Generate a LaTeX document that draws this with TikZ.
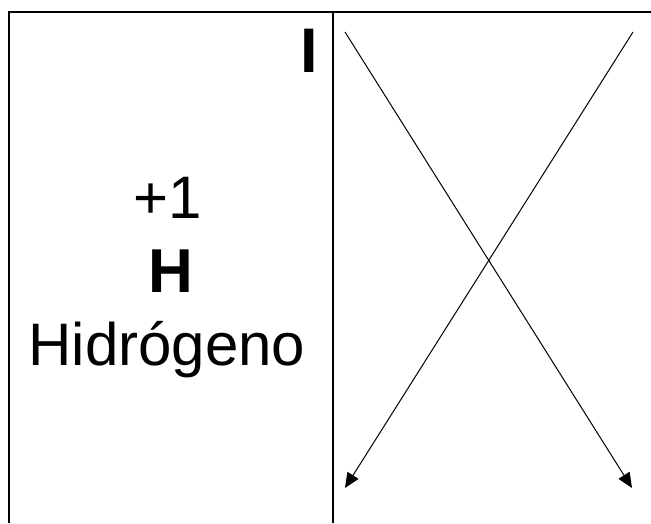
\documentclass[tikz,border=0pt]{standalone}
\usepackage{fontspec}
\setmainfont{Liberation Sans}
\usetikzlibrary{arrows.meta}
\begin{document}
\begin{tikzpicture}[x=1pt,y=1pt,
  frame/.style={line width=2pt},
  cross/.style={line width=1pt,-{Triangle[length=15pt,width=13pt]}},
  bigtext/.style={inner sep=0pt,font=\fontsize{60}{72}\selectfont}]
\useasboundingbox (0,0) rectangle (651,523);
\coordinate (tl) at (9,511);
\coordinate (bl) at (9,0);
\coordinate (tr) at (651,511);
\coordinate (dt) at (333,511);
\coordinate (db) at (333,0);
\draw[frame] (bl) -- (tl) -- (tr);
\draw[frame] (dt) -- (db);
\node[bigtext,anchor=base east,font=\fontsize{63}{72}\selectfont\bfseries] (roman) at (318,450) {I};
\node[bigtext,anchor=base] (charge) at (168,304) {+1};
\node[bigtext,anchor=base,font=\fontsize{62}{72}\selectfont\bfseries] (sym) at (171,230) {H};
\node[bigtext,anchor=base] (name) at (167,158) {Hidrógeno};
\coordinate (a1) at (345,491);
\coordinate (b1) at (632,35);
\coordinate (a2) at (633,491);
\coordinate (b2) at (345,35);
\draw[cross] (a1) -- (b1);
\draw[cross] (a2) -- (b2);
\end{tikzpicture}
\end{document}
